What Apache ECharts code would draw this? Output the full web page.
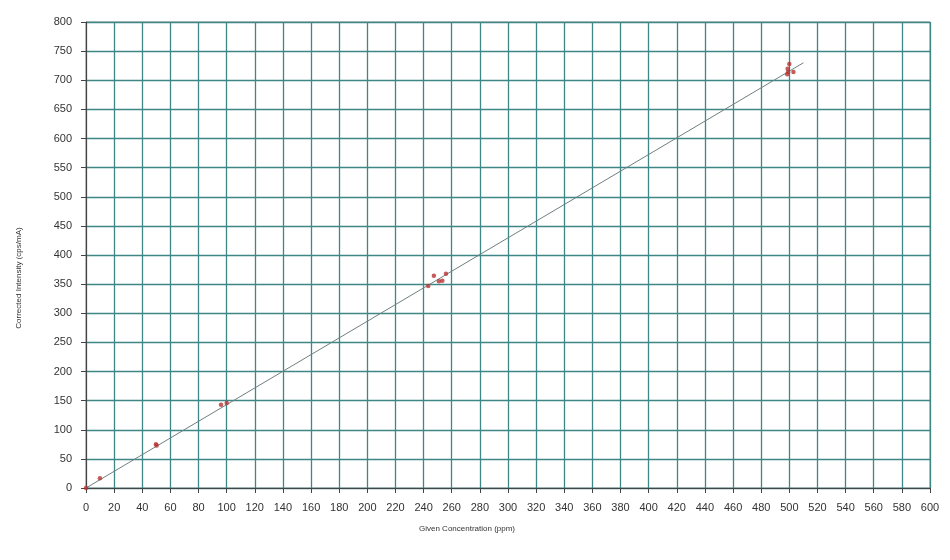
<!DOCTYPE html>
<html>
<head>
<meta charset="utf-8">
<script src="https://cdn.jsdelivr.net/npm/echarts@6/dist/echarts.min.js"></script>
<style>html,body{margin:0;padding:0;background:#fff;}#c{width:950px;height:560px;}</style>
</head>
<body>
<div id="c"></div>
<script>
var measuredX = [0, 9.9, 49.7, 50.2, 96, 100, 243.3, 247.3, 250.9, 253.3, 255.9, 498.5, 498.8, 499.1, 500, 502.9];
var measuredY = [0, 16.6, 75, 73, 143, 146, 346.8, 364.5, 354.8, 355.9, 367.9, 710.5, 719.7, 714, 728, 714];
var fitX = [0, 510];
var fitY = [0, 730];
var xMin = 0, xMax = 600, xStep = 20;
var yMin = 0, yMax = 800, yStep = 50;

var pts = measuredX.map(function(x, i){ return [x, measuredY[i]]; });
var fit = fitX.map(function(x, i){ return [x, fitY[i]]; });

var chart = echarts.init(document.getElementById('c'));
var labelFont = {color:'#333', fontSize:11, fontFamily:'Liberation Sans, Arial, sans-serif'};
chart.setOption({
  animation:false,
  backgroundColor:'#fff',
  grid:{left:86, right:20, top:22, bottom:72, show:true, borderColor:'#888', borderWidth:1},
  xAxis:{
    type:'value', min:xMin, max:xMax, interval:xStep,
    name:'Given Concentration (ppm)', nameLocation:'middle', nameGap:37,
    nameTextStyle:{color:'#333', fontSize:8, fontFamily:'Liberation Sans, Arial, sans-serif', padding:[0,82,0,0]},
    axisLine:{show:true, lineStyle:{color:'#444', width:1}},
    axisTick:{show:true, length:5, lineStyle:{color:'#444'}},
    axisLabel:Object.assign({margin:14}, labelFont),
    splitLine:{show:true, lineStyle:{color:'#3f8686', width:1.3}}
  },
  yAxis:{
    type:'value', min:yMin, max:yMax, interval:yStep,
    name:'Corrected Intensity (cps/mA)', nameLocation:'middle', nameGap:63,
    nameTextStyle:{color:'#333', fontSize:8, fontFamily:'Liberation Sans, Arial, sans-serif', padding:[0,46,0,0]},
    axisLine:{show:true, lineStyle:{color:'#444', width:1}},
    axisTick:{show:true, length:5, lineStyle:{color:'#444'}},
    axisLabel:Object.assign({margin:14}, labelFont),
    splitLine:{show:true, lineStyle:{color:'#3f8686', width:1.3}}
  },
  series:[
    {type:'line', data:fit, symbol:'none', lineStyle:{color:'#6f7f7f', width:1}, z:2},
    {type:'scatter', data:pts, symbol:'circle', symbolSize:4.5, itemStyle:{color:'#b83232'}, z:3}
  ]
});
</script>
</body>
</html>
